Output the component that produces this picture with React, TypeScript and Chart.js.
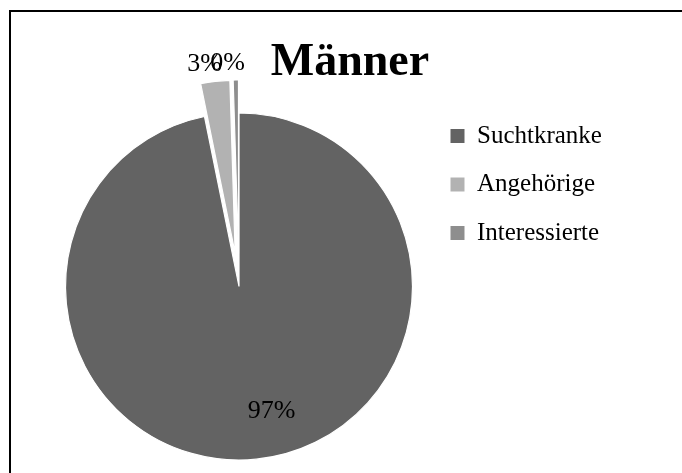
import React, { useEffect, useRef } from "react";
import { Chart, registerables } from "chart.js";

Chart.register(...registerables);

// ---- data ----
const categories = ["Suchtkranke", "Angehörige", "Interessierte"];
const shares = [96.81, 2.7, 0.49];
const titleText = "Männer";

// ---- styles ----
const sliceColors = ["#636363", "#b2b2b2", "#8e8e8e"];
const explode = [0, 33, 33];
const labelInside = [true, false, false];
const labelNudge = [
  { x: 20, y: 0 },
  { x: -8, y: 0 },
  { x: -8, y: 0 },
];
const FONT = "'Liberation Serif', 'Times New Roman', serif";
const LEGEND_FONT_SIZE = 25;
const LEGEND_BOX = 14;
const LEGEND_PAD = 23.5;
const LEGEND_LEFT = 427;

const pageFrame = {
  id: "pageFrame",
  beforeDraw(chart: any) {
    const ctx = chart.ctx;
    ctx.save();
    ctx.fillStyle = "#ffffff";
    ctx.fillRect(0, 0, chart.width, chart.height);
    ctx.strokeStyle = "#000000";
    ctx.lineWidth = 2;
    ctx.beginPath();
    ctx.moveTo(10, chart.height + 10);
    ctx.lineTo(10, 11);
    ctx.lineTo(chart.width + 10, 11);
    ctx.stroke();
    ctx.restore();
  },
};

const explodedPie = {
  id: "explodedPie",
  beforeDatasetDraw(chart: any, args: any) {
    const ctx = chart.ctx;
    args.meta.data.forEach((arc: any, i: number) => {
      const mid = (arc.startAngle + arc.endAngle) / 2;
      const d = explode[i] || 0;
      ctx.save();
      ctx.translate(Math.cos(mid) * d, Math.sin(mid) * d);
      arc.draw(ctx);
      ctx.restore();
    });
    return false;
  },
};

const sliceLabels = {
  id: "sliceLabels",
  afterDatasetsDraw(chart: any) {
    const ctx = chart.ctx;
    const meta = chart.getDatasetMeta(0);
    const values = chart.data.datasets[0].data as number[];
    const total = values.reduce((a, b) => a + b, 0);
    ctx.save();
    ctx.font = `26px ${FONT}`;
    ctx.fillStyle = "#000000";
    ctx.textAlign = "center";
    ctx.textBaseline = "middle";
    meta.data.forEach((arc: any, i: number) => {
      const mid = (arc.startAngle + arc.endAngle) / 2;
      const d = explode[i] || 0;
      const cx = arc.x + Math.cos(mid) * d;
      const cy = arc.y + Math.sin(mid) * d;
      const r = arc.outerRadius;
      const text = Math.round((values[i] / total) * 100) + "%";
      let x: number, y: number;
      if (labelInside[i]) {
        x = cx + Math.cos(mid) * r * 0.72;
        y = cy + Math.sin(mid) * r * 0.72;
      } else {
        const w = ctx.measureText(text).width;
        const h = 22;
        const px = cx + Math.cos(mid) * (r + 6);
        const py = cy + Math.sin(mid) * (r + 6);
        x = px + (Math.cos(mid) * w) / 2;
        y = py + (Math.sin(mid) * h) / 2;
      }
      ctx.fillText(text, x + labelNudge[i].x, y + labelNudge[i].y);
    });
    ctx.restore();
  },
};

const titleDraw = {
  id: "titleDraw",
  afterDraw(chart: any) {
    const ctx = chart.ctx;
    ctx.save();
    ctx.font = `bold 46px ${FONT}`;
    ctx.fillStyle = "#000000";
    ctx.textAlign = "center";
    ctx.textBaseline = "alphabetic";
    ctx.fillText(titleText, 350, 75);
    ctx.restore();
  },
};

export default function App() {
  const ref = useRef<HTMLCanvasElement>(null);
  useEffect(() => {
    document.body.style.margin = "0";
    document.body.style.overflow = "hidden";
    if (!ref.current) return;
    const mctx = ref.current.getContext("2d") as CanvasRenderingContext2D;
    mctx.font = `${LEGEND_FONT_SIZE}px ${FONT}`;
    const maxText = Math.max(...categories.map((c) => mctx.measureText(c).width));
    const legendWidth = LEGEND_PAD + LEGEND_BOX + LEGEND_FONT_SIZE / 2 + maxText + 10;
    const rightPad = Math.max(0, 682 - LEGEND_LEFT - legendWidth);
    const chart = new Chart(ref.current, {
      type: "pie",
      data: {
        labels: categories,
        datasets: [
          {
            data: shares,
            backgroundColor: sliceColors,
            borderColor: "#ffffff",
            borderWidth: 1.2,
            clip: false as any,
          },
        ],
      },
      options: {
        responsive: false,
        animation: false,
        radius: 173.5,
        layout: { padding: { top: 100, bottom: 0, left: 51, right: rightPad } },
        plugins: {
          tooltip: { enabled: false },
          title: { display: false },
          legend: {
            display: true,
            position: "right",
            align: "start",
            labels: {
              color: "#000000",
              font: { family: FONT, size: LEGEND_FONT_SIZE },
              boxWidth: LEGEND_BOX,
              boxHeight: LEGEND_BOX,
              padding: LEGEND_PAD,
              generateLabels: (c: any) =>
                (Chart as any).overrides.pie.plugins.legend.labels
                  .generateLabels(c)
                  .map((l: any) => ({ ...l, lineWidth: 0, strokeStyle: "transparent" })),
            },
          },
        },
      } as any,
      plugins: [pageFrame, explodedPie, sliceLabels, titleDraw],
    });
    return () => chart.destroy();
  }, []);
  return (
    <canvas
      ref={ref}
      width={682}
      height={473}
      style={{ display: "block", width: 682, height: 473 }}
    />
  );
}
